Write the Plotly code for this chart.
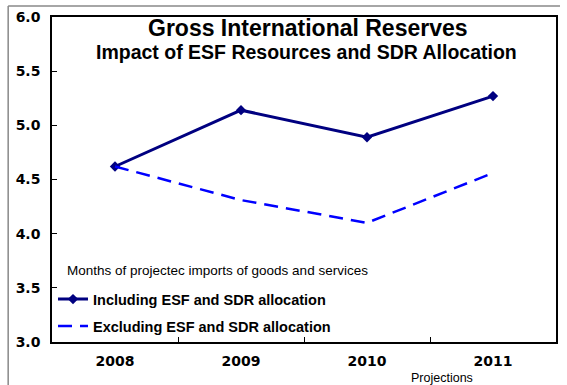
import plotly.graph_objects as go

years = ["2008", "2009", "2010", "2011"]
including = [4.62, 5.14, 4.89, 5.27]
excluding = [4.62, 4.31, 4.10, 4.56]
y_ticks = [3.0, 3.5, 4.0, 4.5, 5.0, 5.5, 6.0]

W, H = 567, 385
L, R, T, B = 52, 9, 16, 43
pw, ph = W - L - R, H - T - B


def px_x(x):
    return (x - L) / pw


def px_y(y):
    return (H - B - y) / ph


fig = go.Figure()
fig.add_trace(go.Scatter(
    x=years, y=including, mode="lines+markers",
    name="Including ESF and SDR allocation", legendgroup="inc",
    line=dict(color="#000080", width=3),
    marker=dict(symbol="diamond", size=8, color="#000080"),
))
fig.add_trace(go.Scatter(
    x=years, y=excluding, mode="lines",
    name="Excluding ESF and SDR allocation", legendgroup="exc",
    line=dict(color="#0000FF", width=2.5, dash="14px,8px"),
))

tick_font = dict(family="DejaVu Sans, Verdana, sans-serif", size=14, weight="bold")

fig.update_layout(
    width=W, height=H,
    margin=dict(l=L, r=R, t=T, b=B),
    paper_bgcolor="white", plot_bgcolor="white",
    font=dict(family="Liberation Sans, Arial, sans-serif", color="black"),
    showlegend=True,
    legend=dict(
        x=px_x(53), y=px_y(283), xanchor="left", yanchor="top",
        bgcolor="rgba(0,0,0,0)",
        font=dict(size=14.5, weight="bold", family="Liberation Sans, Arial, sans-serif"),
        itemwidth=30, tracegroupgap=5,
    ),
    xaxis=dict(
        type="category", range=[-0.5, 3.5],
        showline=True, linecolor="black", linewidth=1.5, mirror=True,
        ticks="inside", tickson="boundaries", ticklen=5, tickcolor="black",
        showgrid=False, zeroline=False,
        tickfont=tick_font, ticklabelstandoff=5,
    ),
    yaxis=dict(
        range=[3.0, 6.0], tickvals=y_ticks,
        ticktext=[f"{v:.1f}" for v in y_ticks],
        showline=True, linecolor="black", linewidth=1.5, mirror=True,
        ticks="inside", ticklen=5, tickcolor="black",
        showgrid=False, zeroline=False,
        tickfont=tick_font, ticklabelstandoff=7,
    ),
)

# Titles
fig.add_annotation(text="<b>Gross International Reserves</b>", xref="paper", yref="paper",
                   x=px_x(309), y=px_y(27), xanchor="center", yanchor="middle",
                   showarrow=False, font=dict(size=23))
fig.add_annotation(text="<b>Impact of ESF Resources and SDR Allocation</b>", xref="paper", yref="paper",
                   x=px_x(308), y=px_y(51), xanchor="center", yanchor="middle",
                   showarrow=False, font=dict(size=19.5))
fig.add_annotation(text="Months of projectec imports of goods and services",
                   xref="paper", yref="paper", x=px_x(65), y=px_y(270),
                   xanchor="left", yanchor="middle", showarrow=False, font=dict(size=13.5))
fig.add_annotation(text="Projections", xref="paper", yref="paper",
                   x=px_x(444), y=px_y(378), xanchor="center", yanchor="middle",
                   showarrow=False, font=dict(size=12.5))

# Outer frame edges (top and left)
fig.add_shape(type="line", xref="paper", yref="paper",
              x0=px_x(8), x1=px_x(562), y0=px_y(5), y1=px_y(5),
              line=dict(color="#888888", width=1.5))
fig.add_shape(type="line", xref="paper", yref="paper",
              x0=px_x(8), x1=px_x(8), y0=px_y(5), y1=px_y(390),
              line=dict(color="#888888", width=1.5))

fig.write_html("out.html")
